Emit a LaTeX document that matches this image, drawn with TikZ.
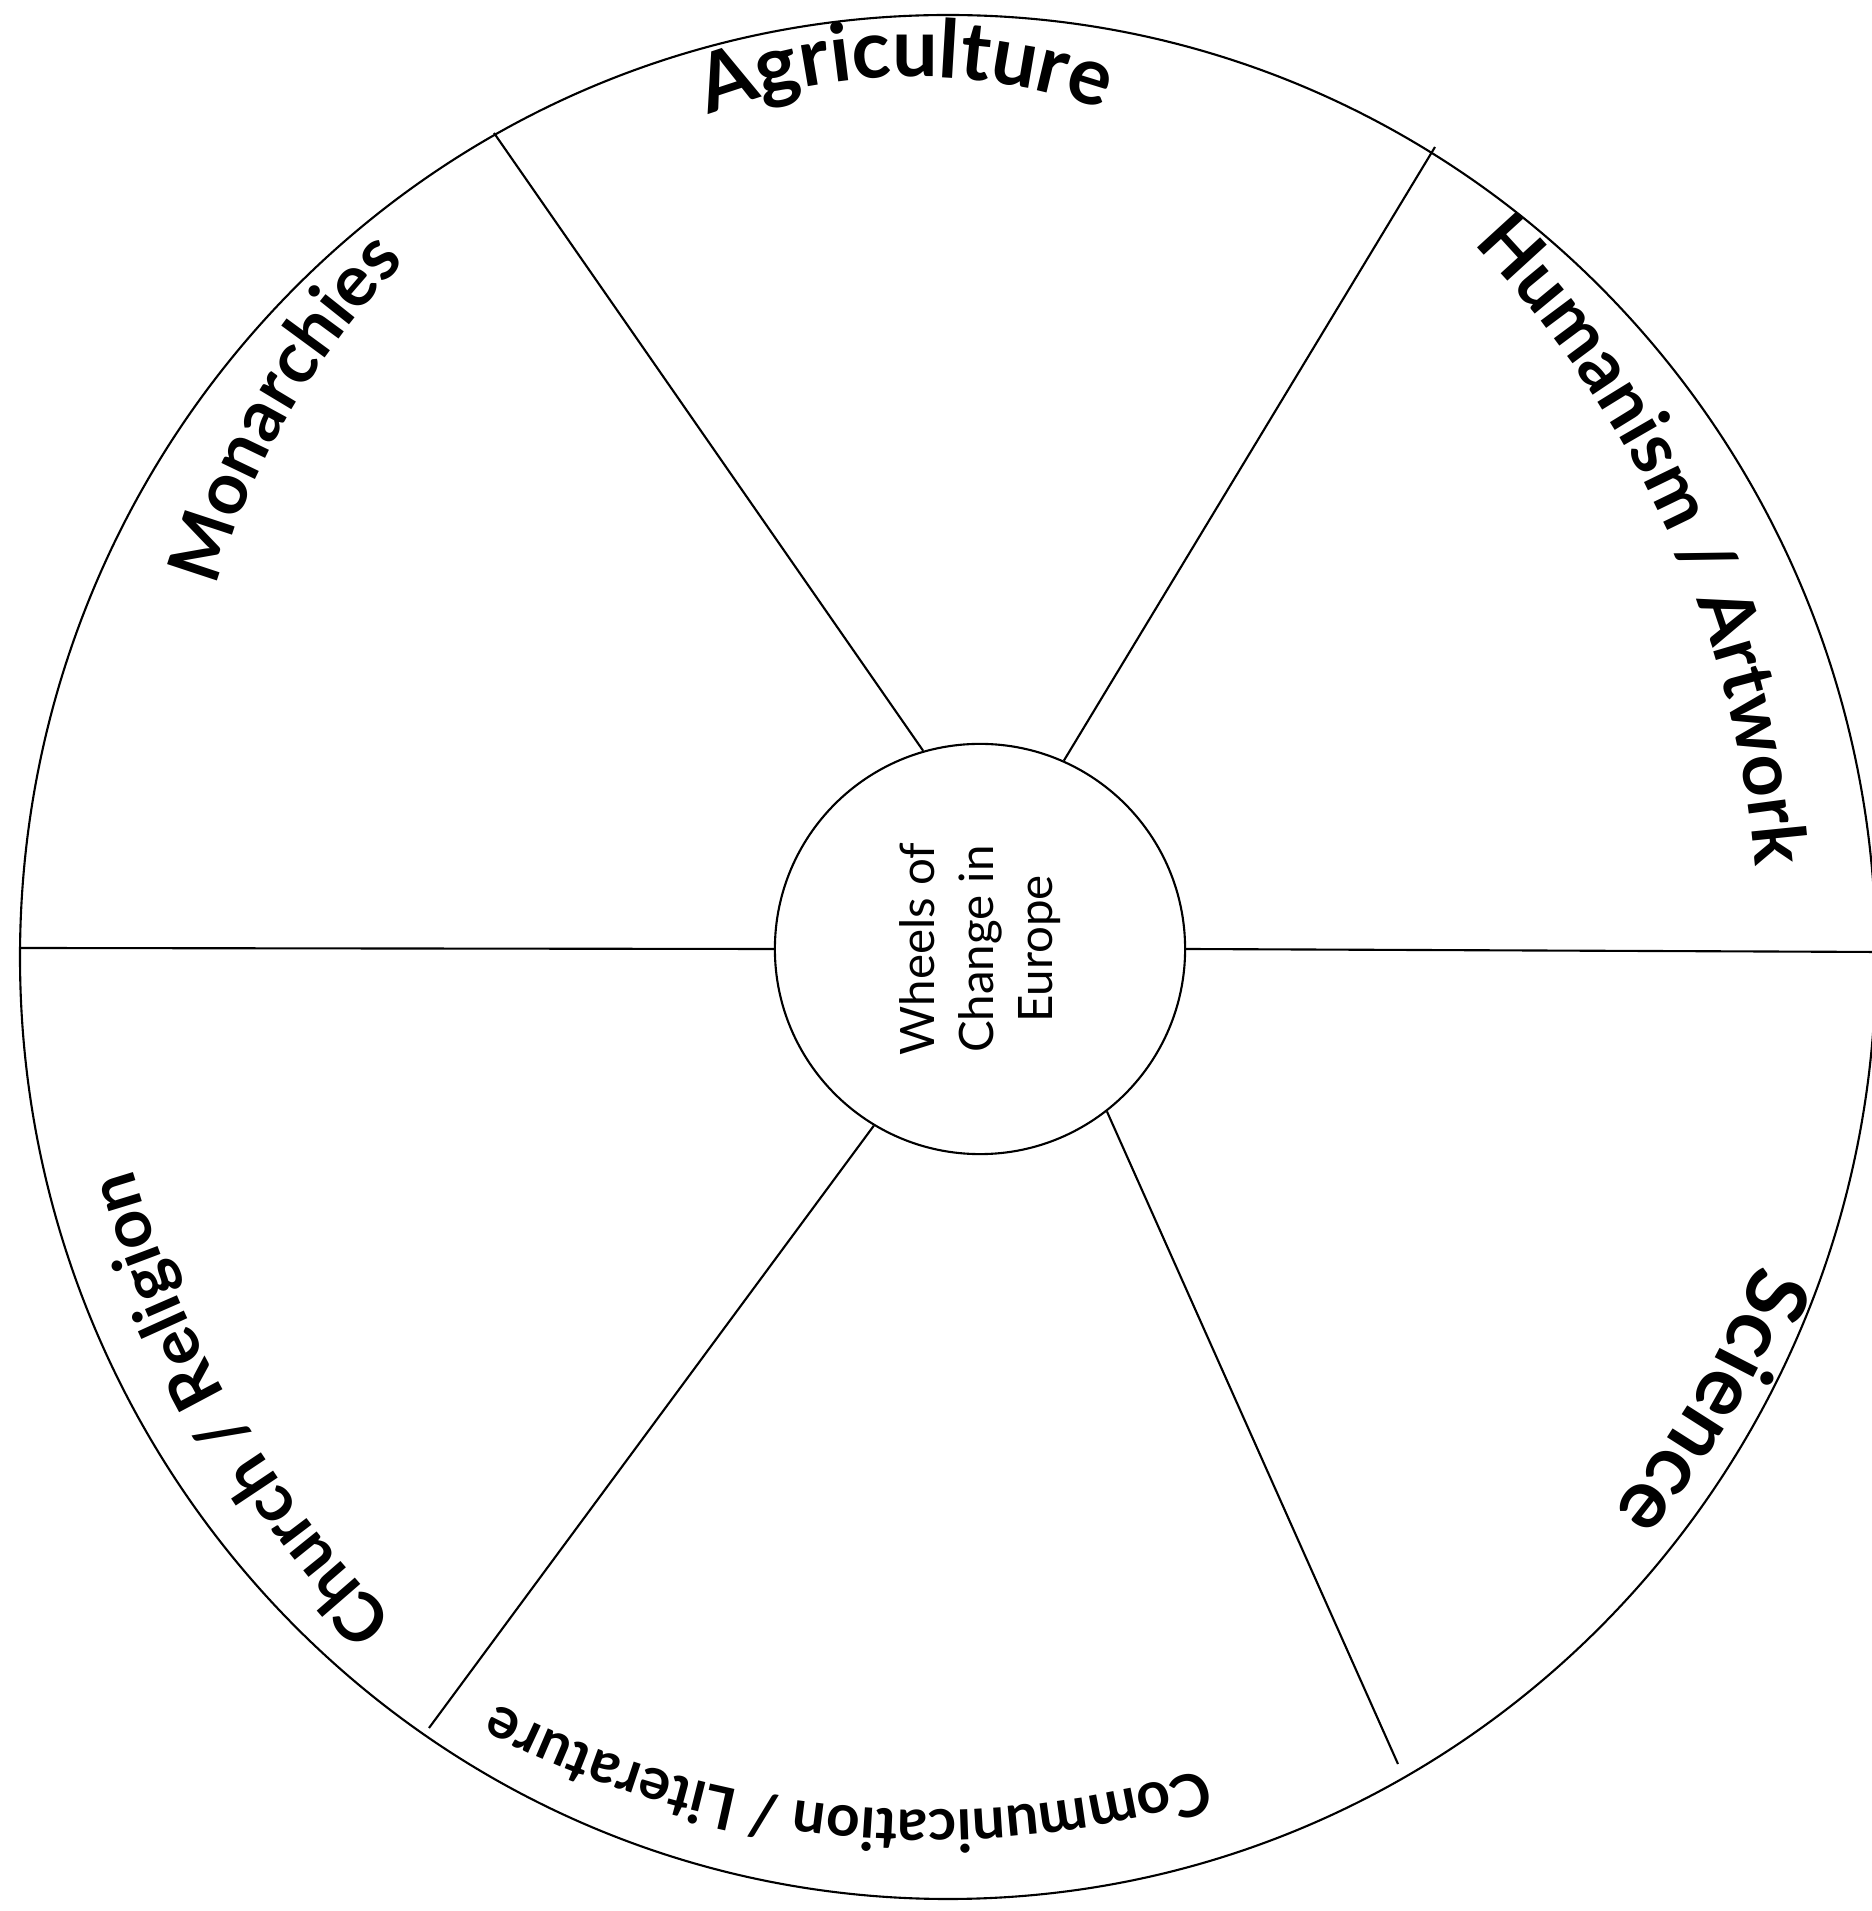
\documentclass[tikz,border=0pt]{standalone}
\usepackage{fontspec}
\setmainfont{Lato}
\usetikzlibrary{decorations.text}

\begin{document}
\begin{tikzpicture}[x=0.01cm, y=0.01cm, line width=0.6pt,
    rimtext/.style 2 args={decorate, decoration={text along path, text align=center,
        text={|\bfseries\fontsize{#1}{#1}\selectfont|#2}}}]
    \path[fill=white, use as bounding box] (0,0) rectangle (1871,1911);

    \draw (948,954) ellipse [x radius=928, y radius=942];
    \node[circle, draw, minimum size=4.1cm, inner sep=0pt] (hub) at (980,962) {};
    \node[rotate=90, align=center, font=\fontsize{13.5}{16.8}\selectfont] (title) at (hub) {Wheels of\\Change in\\Europe};

    \coordinate (w) at (20,963);
    \coordinate (e) at (1880,959);
    \coordinate (nw) at (494,1778);
    \coordinate (ne) at (1435,1764);
    \coordinate (sw) at (429,183);
    \coordinate (se) at (1398,147);

    \draw (w) -- (hub.180);
    \draw (hub.0) -- (e);
    \draw (hub.106) -- (nw);
    \draw (hub.66.5) -- (ne);
    \draw (hub.239) -- (sw);
    \draw (hub.308) -- (se);

    \path[rimtext={23}{Agriculture}] ([shift={(115.86:575)}]914,1259) arc[start angle=115.86, end angle=65.86, radius=575];
    \path[rimtext={21}{Humanism / Artwork}] ([shift={(49.35:1017)}]741.5,961) arc[start angle=49.35, end angle=-0.65, radius=1017];
    \path[rimtext={24}{Science}] ([shift={(-17.25:865)}]948,954) arc[start angle=-17.25, end angle=-43.25, radius=865];
    \path[rimtext={16.7}{Communication / Literature}] ([shift={(291.75:936)}]930,1037) arc[start angle=291.75, end angle=237.75, radius=936];
    \path[rimtext={19.3}{Church / Religion}] ([shift={(228.2:1064)}]1155,1035.5) arc[start angle=228.2, end angle=192.2, radius=1064];
    \path[rimtext={20.6}{Monarchies}] ([shift={(167.85:749)}]938,1122.5) arc[start angle=167.85, end angle=131.85, radius=749];
\end{tikzpicture}
\end{document}
